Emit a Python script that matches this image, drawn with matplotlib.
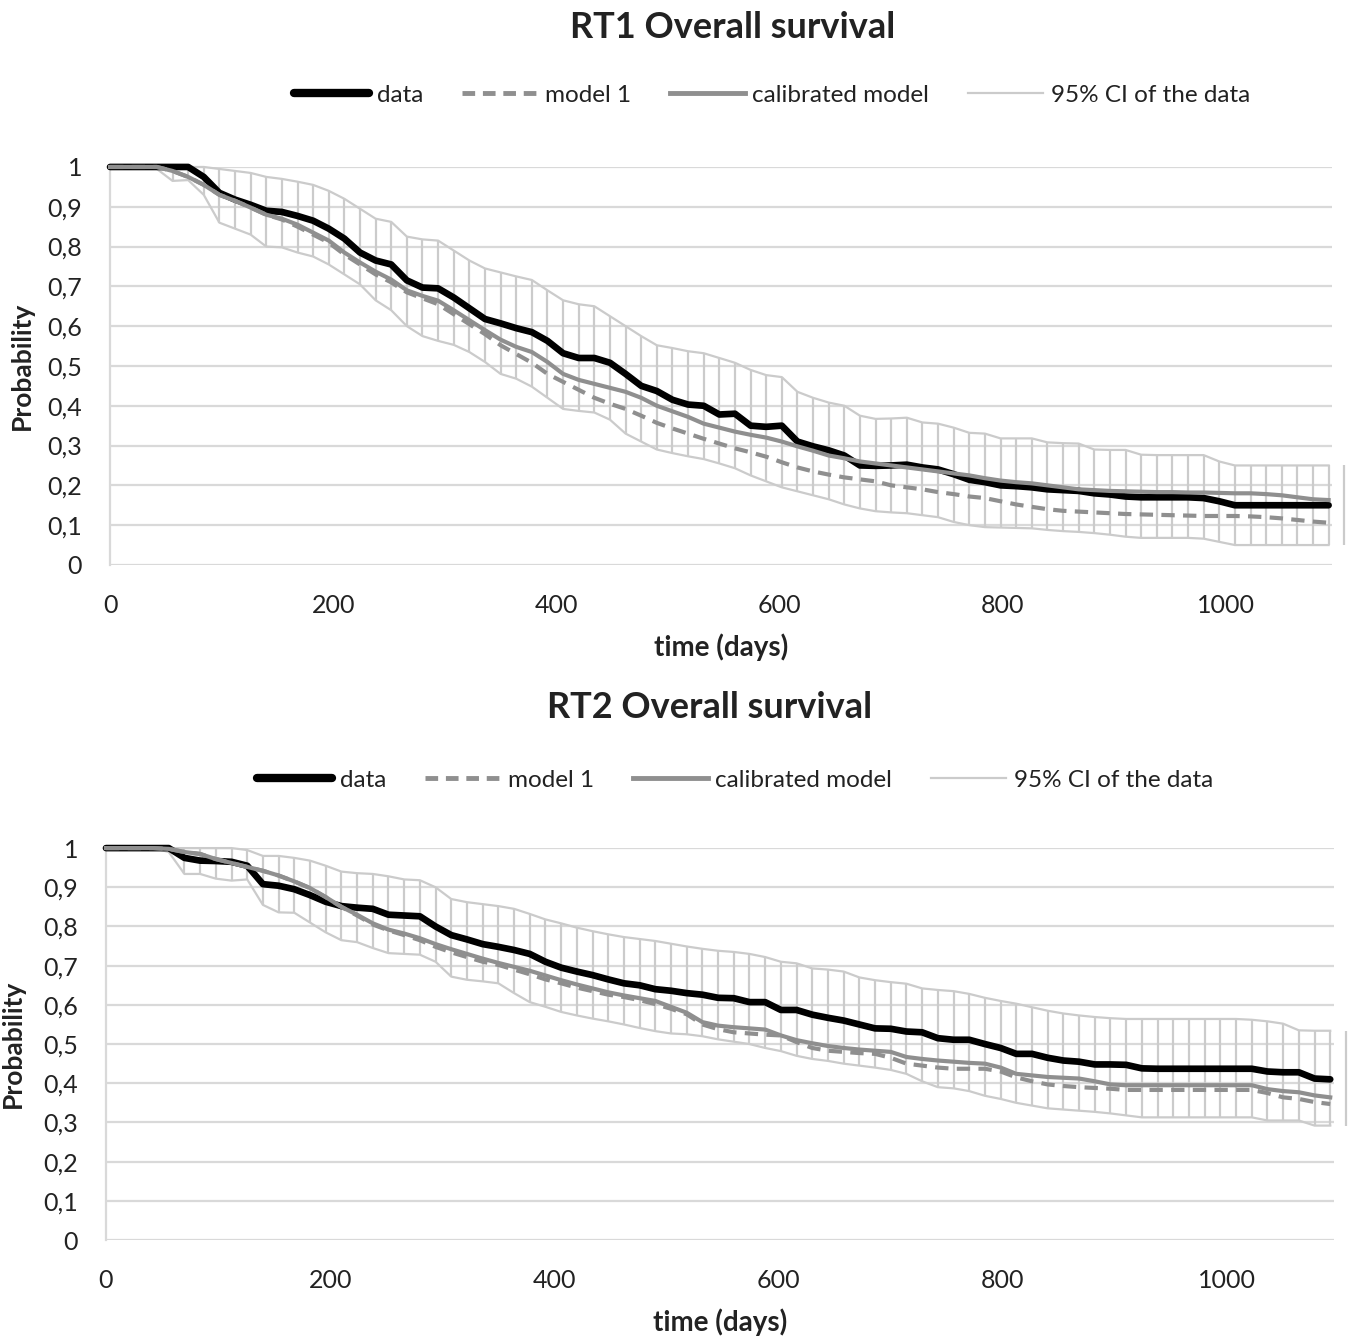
import numpy as np
from matplotlib import pyplot as plt
from matplotlib.lines import Line2D

plt.rcParams['font.family'] = ['Lato', 'DejaVu Sans']

# Rejilla de tiempo (días), un punto cada 14 días; el último punto queda fuera del eje
dias = np.arange(0, 1107, 14)

# ---------------- RT1 ----------------
rt1_data = [1.0, 1.0, 1.0, 1.0, 1.0, 1.0, 0.975, 0.935, 0.918, 0.905,
            0.89, 0.887, 0.877, 0.865, 0.845, 0.82, 0.785, 0.765, 0.755, 0.715,
            0.697, 0.695, 0.672, 0.645, 0.618, 0.607, 0.595, 0.585, 0.563, 0.532,
            0.52, 0.52, 0.508, 0.48, 0.45, 0.437, 0.415, 0.403, 0.4, 0.378,
            0.38, 0.35, 0.347, 0.35, 0.31, 0.298, 0.288, 0.275, 0.25, 0.249,
            0.25, 0.252, 0.245, 0.24, 0.228, 0.214, 0.208, 0.2, 0.198, 0.195,
            0.19, 0.188, 0.186, 0.18, 0.177, 0.172, 0.17, 0.17, 0.17, 0.17,
            0.168, 0.16, 0.15, 0.15, 0.15, 0.15, 0.15, 0.15, 0.15]
rt1_modelo1 = [1.0, 1.0, 1.0, 1.0, 0.99, 0.975, 0.955, 0.93, 0.915, 0.898,
               0.88, 0.868, 0.85, 0.83, 0.81, 0.78, 0.755, 0.73, 0.71, 0.685,
               0.67, 0.655, 0.63, 0.605, 0.58, 0.552, 0.53, 0.508, 0.48, 0.46,
               0.44, 0.42, 0.405, 0.392, 0.375, 0.357, 0.343, 0.33, 0.317, 0.305,
               0.293, 0.283, 0.272, 0.258, 0.245, 0.235, 0.227, 0.22, 0.215, 0.21,
               0.2, 0.195, 0.19, 0.183, 0.178, 0.172, 0.168, 0.16, 0.152, 0.146,
               0.14, 0.136, 0.134, 0.132, 0.13, 0.128, 0.127, 0.126, 0.125, 0.124,
               0.123, 0.123, 0.123, 0.122, 0.12, 0.117, 0.113, 0.109, 0.106]
rt1_calibrado = [1.0, 1.0, 1.0, 1.0, 0.99, 0.975, 0.955, 0.93, 0.915, 0.898,
                 0.88, 0.87, 0.855, 0.835, 0.815, 0.785, 0.76, 0.737, 0.717, 0.69,
                 0.676, 0.664, 0.64, 0.615, 0.59, 0.566, 0.548, 0.535, 0.51, 0.48,
                 0.465, 0.455, 0.445, 0.435, 0.42, 0.4, 0.386, 0.372, 0.355, 0.345,
                 0.335, 0.327, 0.32, 0.31, 0.298, 0.287, 0.275, 0.268, 0.26, 0.255,
                 0.25, 0.245, 0.24, 0.235, 0.23, 0.225, 0.218, 0.212, 0.208, 0.205,
                 0.2, 0.195, 0.19, 0.188, 0.186, 0.185, 0.184, 0.183, 0.183, 0.182,
                 0.182, 0.181, 0.18, 0.18, 0.178, 0.175, 0.17, 0.165, 0.163]
rt1_ic_sup = [1.0, 1.0, 1.0, 1.0, 1.0, 1.0, 1.0, 0.995, 0.99, 0.985,
              0.975, 0.97, 0.963, 0.955, 0.94, 0.92, 0.895, 0.87, 0.862, 0.825,
              0.818, 0.815, 0.79, 0.765, 0.745, 0.735, 0.725, 0.716, 0.69, 0.665,
              0.655, 0.65, 0.625, 0.6, 0.575, 0.552, 0.545, 0.537, 0.532, 0.52,
              0.508, 0.49, 0.477, 0.472, 0.435, 0.42, 0.408, 0.4, 0.375, 0.367,
              0.368, 0.37, 0.358, 0.355, 0.345, 0.332, 0.33, 0.318, 0.318, 0.318,
              0.308, 0.306, 0.305, 0.29, 0.289, 0.289, 0.277, 0.276, 0.276, 0.276,
              0.276, 0.26, 0.25, 0.25, 0.25, 0.25, 0.25, 0.25, 0.25, 0.25]
rt1_ic_inf = [1.0, 1.0, 1.0, 0.995, 0.965, 0.967, 0.93, 0.86, 0.845, 0.83,
              0.8, 0.798, 0.785, 0.775, 0.755, 0.73, 0.705, 0.665, 0.64, 0.6,
              0.575, 0.563, 0.553, 0.535, 0.51, 0.48, 0.468, 0.448, 0.42, 0.392,
              0.387, 0.383, 0.365, 0.33, 0.31, 0.29, 0.281, 0.273, 0.266, 0.255,
              0.243, 0.225, 0.21, 0.195, 0.185, 0.175, 0.165, 0.152, 0.142, 0.135,
              0.132, 0.13, 0.125, 0.12, 0.108, 0.1, 0.095, 0.094, 0.093, 0.092,
              0.088, 0.085, 0.083, 0.08, 0.076, 0.071, 0.068, 0.068, 0.068, 0.068,
              0.066, 0.058, 0.05, 0.05, 0.05, 0.05, 0.05, 0.05, 0.05, 0.05]

# ---------------- RT2 ----------------
rt2_data = [1.0, 1.0, 1.0, 1.0, 1.0, 0.975, 0.968, 0.967, 0.965, 0.955,
            0.908, 0.904, 0.895, 0.88, 0.863, 0.852, 0.848, 0.845, 0.83, 0.828,
            0.826, 0.8, 0.778, 0.767, 0.755, 0.748, 0.74, 0.73, 0.71, 0.695,
            0.685, 0.676, 0.665, 0.655, 0.65, 0.64, 0.636, 0.63, 0.626, 0.618,
            0.617, 0.607, 0.607, 0.587, 0.587, 0.575, 0.567, 0.56, 0.55, 0.54,
            0.539, 0.532, 0.53, 0.515, 0.511, 0.511, 0.5, 0.49, 0.475, 0.475,
            0.465, 0.458, 0.455, 0.448, 0.448, 0.447, 0.438, 0.437, 0.437, 0.437,
            0.437, 0.437, 0.437, 0.437, 0.43, 0.428, 0.428, 0.412, 0.41]
rt2_modelo1 = [1.0, 1.0, 1.0, 1.0, 0.998, 0.99, 0.985, 0.972, 0.962, 0.952,
               0.942, 0.93, 0.915, 0.898, 0.875, 0.85, 0.828, 0.805, 0.79, 0.778,
               0.765, 0.748, 0.734, 0.722, 0.71, 0.702, 0.69, 0.678, 0.665, 0.655,
               0.644, 0.635, 0.626, 0.62, 0.612, 0.602, 0.59, 0.576, 0.55, 0.538,
               0.53, 0.527, 0.524, 0.522, 0.505, 0.49, 0.483, 0.48, 0.477, 0.475,
               0.465, 0.45, 0.445, 0.44, 0.437, 0.437, 0.437, 0.43, 0.415, 0.405,
               0.397, 0.393, 0.39, 0.388, 0.386, 0.383, 0.383, 0.383, 0.383, 0.383,
               0.383, 0.383, 0.383, 0.383, 0.375, 0.364, 0.36, 0.352, 0.347]
rt2_calibrado = [1.0, 1.0, 1.0, 1.0, 0.998, 0.99, 0.985, 0.972, 0.962, 0.952,
                 0.942, 0.93, 0.915, 0.898, 0.875, 0.85, 0.83, 0.808, 0.792, 0.782,
                 0.77, 0.755, 0.742, 0.73, 0.718, 0.707, 0.697, 0.687, 0.675, 0.663,
                 0.652, 0.642, 0.632, 0.624, 0.617, 0.61, 0.595, 0.58, 0.556, 0.547,
                 0.543, 0.54, 0.537, 0.522, 0.51, 0.502, 0.495, 0.49, 0.486, 0.483,
                 0.48, 0.467, 0.462, 0.458, 0.455, 0.452, 0.45, 0.44, 0.424, 0.42,
                 0.416, 0.414, 0.412, 0.405, 0.397, 0.395, 0.395, 0.395, 0.395, 0.395,
                 0.395, 0.395, 0.395, 0.395, 0.385, 0.38, 0.377, 0.369, 0.364]
rt2_ic_sup = [1.0, 1.0, 1.0, 1.0, 1.0, 1.0, 1.0, 1.0, 1.0, 0.995,
              0.98, 0.98, 0.975, 0.968, 0.955, 0.94, 0.936, 0.934, 0.928, 0.92,
              0.918, 0.9, 0.87, 0.862, 0.857, 0.852, 0.845, 0.832, 0.818, 0.808,
              0.797, 0.788, 0.78, 0.773, 0.768, 0.763, 0.756, 0.749, 0.743, 0.738,
              0.735, 0.73, 0.722, 0.71, 0.706, 0.693, 0.69, 0.685, 0.67, 0.663,
              0.658, 0.654, 0.642, 0.638, 0.635, 0.628, 0.618, 0.61, 0.603, 0.594,
              0.585, 0.578, 0.573, 0.569, 0.566, 0.564, 0.564, 0.564, 0.564, 0.564,
              0.564, 0.564, 0.564, 0.562, 0.558, 0.552, 0.535, 0.534, 0.534, 0.534]
rt2_ic_inf = [1.0, 1.0, 1.0, 1.0, 0.99, 0.934, 0.934, 0.922, 0.917, 0.92,
              0.855, 0.836, 0.835, 0.81, 0.785, 0.765, 0.76, 0.745, 0.732, 0.73,
              0.728, 0.71, 0.672, 0.664, 0.66, 0.655, 0.63, 0.607, 0.595, 0.582,
              0.573, 0.565, 0.558, 0.55, 0.541, 0.533, 0.527, 0.525, 0.52, 0.512,
              0.506, 0.5, 0.49, 0.482, 0.47, 0.462, 0.457, 0.45, 0.445, 0.44,
              0.434, 0.424, 0.405, 0.39, 0.387, 0.38, 0.368, 0.36, 0.35, 0.343,
              0.336, 0.333, 0.33, 0.327, 0.323, 0.318, 0.313, 0.313, 0.313, 0.313,
              0.313, 0.313, 0.313, 0.313, 0.305, 0.305, 0.305, 0.292, 0.292, 0.292]

etiquetas_y = ['0', '0,1', '0,2', '0,3', '0,4', '0,5', '0,6', '0,7', '0,8', '0,9', '1']
etiquetas_x = ['0', '200', '400', '600', '800', '1000']

NEGRO = '#000000'
GRIS = '#8f8f8f'
GRIS_IC = '#cbcbcb'
GRIS_REJILLA = '#d9d9d9'
TEXTO = '#222222'


def graficar(ax, data, modelo1, calibrado, ic_sup, ic_inf):
    n = len(data)
    # Intervalo de confianza: líneas + barras verticales cada 14 días
    ax.plot(dias[:n], ic_sup[:n], color=GRIS_IC, lw=1.6, zorder=2, clip_on=False)
    ax.plot(dias[:n], ic_inf[:n], color=GRIS_IC, lw=1.6, zorder=2, clip_on=False)
    ax.vlines(dias, ic_inf, ic_sup, color=GRIS_IC, lw=1.6, zorder=2, clip_on=False)

    ax.plot(dias[:n], data, color=NEGRO, lw=4.8, zorder=4, clip_on=False,
            solid_capstyle='round', solid_joinstyle='round')
    ax.plot(dias[:n], modelo1, color=GRIS, lw=3, dashes=(3.2, 2.0), zorder=5, clip_on=False)
    ax.plot(dias[:n], calibrado, color=GRIS, lw=3, zorder=6, clip_on=False,
            solid_joinstyle='round')

    ax.set_xlim(0, 1095)
    ax.set_ylim(0, 1)
    ax.set_yticks(np.arange(0, 1.01, 0.1))
    ax.set_yticklabels(etiquetas_y)
    ax.set_xticks(np.arange(0, 1001, 200))
    ax.set_xticklabels(etiquetas_x)
    ax.tick_params(axis='both', length=0, labelsize=18, colors=TEXTO)
    ax.tick_params(axis='y', pad=20)
    ax.tick_params(axis='x', pad=21)
    ax.grid(axis='y', color=GRIS_REJILLA, lw=1.6, zorder=0)
    ax.set_axisbelow(True)
    for lado in ['top', 'right', 'bottom']:
        ax.spines[lado].set_visible(False)
    ax.spines['left'].set_color(GRIS_REJILLA)
    ax.spines['left'].set_linewidth(1.6)
    ax.set_xlabel('time (days)', fontsize=20, fontweight='bold', labelpad=12, color=TEXTO)
    ax.set_ylabel('Probability', fontsize=19, fontweight='bold', color=TEXTO)


fig = plt.figure(figsize=(13.55, 13.4), dpi=100)
ax1 = fig.add_axes([0.0812, 0.5784, 0.9018, 0.2970])
ax2 = fig.add_axes([0.0782, 0.0746, 0.9060, 0.2925])

graficar(ax1, rt1_data, rt1_modelo1, rt1_calibrado, rt1_ic_sup, rt1_ic_inf)
graficar(ax2, rt2_data, rt2_modelo1, rt2_calibrado, rt2_ic_sup, rt2_ic_inf)
ax1.yaxis.set_label_coords(-0.062, 0.5)
ax2.yaxis.set_label_coords(-0.066, 0.5)

fig.text(733 / 1355, 1 - 28 / 1340, 'RT1 Overall survival', ha='center', va='center',
         fontsize=26, fontweight='bold', color=TEXTO)
fig.text(710 / 1355, 1 - 708 / 1340, 'RT2 Overall survival', ha='center', va='center',
         fontsize=26, fontweight='bold', color=TEXTO)

manejadores = [
    Line2D([], [], color=NEGRO, lw=6, solid_capstyle='round'),
    Line2D([], [], color=GRIS, lw=3.5, dashes=(2.6, 1.6)),
    Line2D([], [], color=GRIS, lw=3.5),
    Line2D([], [], color=GRIS_IC, lw=1.6),
]
nombres = ['data', 'model 1', 'calibrated model', '95% CI of the data']
for cx, cy in [(772 / 1355, 1 - 95 / 1340), (735 / 1355, 1 - 780 / 1340)]:
    fig.legend(manejadores, nombres, loc='center', bbox_to_anchor=(cx, cy), ncol=4,
               frameon=False, fontsize=17.5, handlelength=3.1, handletextpad=0.3,
               columnspacing=1.6, labelcolor=TEXTO)

fig.savefig('out.png', dpi=100, facecolor='white')
